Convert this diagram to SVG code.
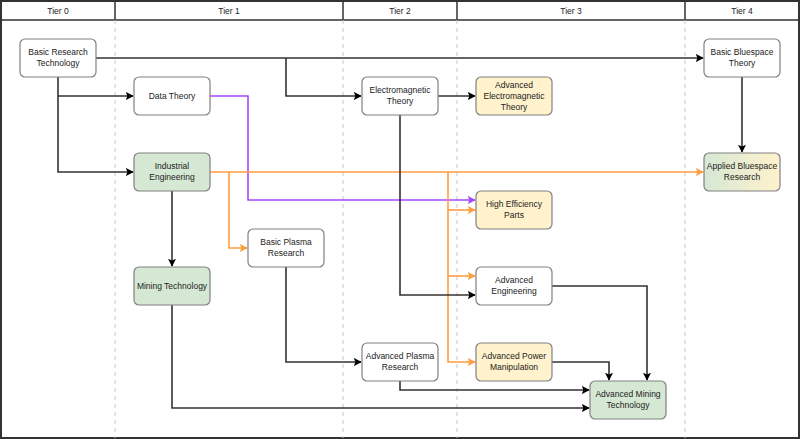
<svg xmlns="http://www.w3.org/2000/svg" width="800" height="439" viewBox="0 0 800 439">
<defs>
<style>
text{font-family:"Liberation Sans",Arial,sans-serif;font-size:8.5px;fill:#222;text-anchor:middle}
.n{stroke:#808080;stroke-width:1.2}
.w{fill:#fff}.g{fill:#d5e8d4}.y{fill:#fff2cc}
.e{fill:none;stroke:#333;stroke-width:1.6}
.o{fill:none;stroke:#FF9D3F;stroke-width:1.6}
.p{fill:none;stroke:#A547FF;stroke-width:1.6}
.d{stroke:#c8c8c8;stroke-dasharray:4 4}
</style>
<linearGradient id="gy" x1="0" x2="1"><stop offset="0" stop-color="#d5e8d4"/><stop offset="1" stop-color="#fff2cc"/></linearGradient>
<marker id="ak" viewBox="0 0 10 10" refX="9" refY="5" markerWidth="8" markerHeight="8" orient="auto" markerUnits="userSpaceOnUse"><path d="M0,0L10,5L0,10L2,5z" fill="#000"/></marker>
<marker id="ao" viewBox="0 0 10 10" refX="9" refY="5" markerWidth="8" markerHeight="8" orient="auto" markerUnits="userSpaceOnUse"><path d="M0,0L10,5L0,10L2,5z" fill="#FF9D3F"/></marker>
<marker id="ap" viewBox="0 0 10 10" refX="9" refY="5" markerWidth="8" markerHeight="8" orient="auto" markerUnits="userSpaceOnUse"><path d="M0,0L10,5L0,10L2,5z" fill="#A547FF"/></marker>
</defs>
<g id="lanes">
<rect x="1" y="1" width="798" height="437" fill="#fff" stroke="#333" stroke-width="2"/>
<line x1="1" y1="20" x2="799" y2="20" stroke="#333" stroke-width="1.5"/>
<g stroke="#333" stroke-width="1.5"><line x1="115" y1="1" x2="115" y2="20"/><line x1="343" y1="1" x2="343" y2="20"/><line x1="457" y1="1" x2="457" y2="20"/><line x1="685" y1="1" x2="685" y2="20"/></g>
<g class="d"><line x1="115" y1="20" x2="115" y2="438"/><line x1="343" y1="20" x2="343" y2="438"/><line x1="457" y1="20" x2="457" y2="438"/><line x1="685" y1="20" x2="685" y2="438"/></g>
<text x="58" y="14">Tier 0</text><text x="229" y="14">Tier 1</text><text x="400" y="14">Tier 2</text><text x="571" y="14">Tier 3</text><text x="742" y="14">Tier 4</text>
</g>
<g id="connectors">
<path class="e" d="M96,58H703" marker-end="url(#ak)"/>
<path class="e" d="M286,58V96H361" marker-end="url(#ak)"/>
<path class="e" d="M58,77V172H133" marker-end="url(#ak)"/>
<path class="e" d="M58,96H133" marker-end="url(#ak)"/>
<path class="p" d="M210,96H248V200H475" marker-end="url(#ap)"/>
<path class="o" d="M210,172H703" marker-end="url(#ao)"/>
<path class="o" d="M229,172V248H247" marker-end="url(#ao)"/>
<path class="o" d="M448,172V362H475" marker-end="url(#ao)"/>
<path class="o" d="M448,210H475" marker-end="url(#ao)"/>
<path class="o" d="M448,276H475" marker-end="url(#ao)"/>
<path class="e" d="M172,191V266" marker-end="url(#ak)"/>
<path class="e" d="M438,96H475" marker-end="url(#ak)"/>
<path class="e" d="M400,115V295H475" marker-end="url(#ak)"/>
<path class="e" d="M286,267V362H361" marker-end="url(#ak)"/>
<path class="e" d="M400,381V390H589" marker-end="url(#ak)"/>
<path class="e" d="M172,305V408H589" marker-end="url(#ak)"/>
<path class="e" d="M552,286H647V380" marker-end="url(#ak)"/>
<path class="e" d="M552,362H609V380" marker-end="url(#ak)"/>
<path class="e" d="M742,77V152" marker-end="url(#ak)"/>
</g>
<g id="brt"><rect class="n w" x="20" y="39" width="76" height="38" rx="5"/><text x="58" y="55">Basic Research</text><text x="58" y="66">Technology</text></g>
<g id="dt"><rect class="n w" x="134" y="77" width="76" height="38" rx="5"/><text x="172" y="99">Data Theory</text></g>
<g id="ie"><rect class="n g" x="134" y="153" width="76" height="38" rx="5"/><text x="172" y="169">Industrial</text><text x="172" y="180">Engineering</text></g>
<g id="mt"><rect class="n g" x="134" y="267" width="76" height="38" rx="5"/><text x="172" y="289">Mining Technology</text></g>
<g id="bpr"><rect class="n w" x="248" y="229" width="76" height="38" rx="5"/><text x="286" y="245">Basic Plasma</text><text x="286" y="256">Research</text></g>
<g id="et"><rect class="n w" x="362" y="77" width="76" height="38" rx="5"/><text x="400" y="93">Electromagnetic</text><text x="400" y="104">Theory</text></g>
<g id="apr"><rect class="n w" x="362" y="343" width="76" height="38" rx="5"/><text x="400" y="359">Advanced Plasma</text><text x="400" y="370">Research</text></g>
<g id="aet"><rect class="n y" x="476" y="77" width="76" height="38" rx="5"/><text x="514" y="88">Advanced</text><text x="514" y="99">Electromagnetic</text><text x="514" y="110">Theory</text></g>
<g id="hep"><rect class="n y" x="476" y="191" width="76" height="38" rx="5"/><text x="514" y="207">High Efficiency</text><text x="514" y="218">Parts</text></g>
<g id="ae"><rect class="n w" x="476" y="267" width="76" height="38" rx="5"/><text x="514" y="283">Advanced</text><text x="514" y="294">Engineering</text></g>
<g id="apm"><rect class="n y" x="476" y="343" width="76" height="38" rx="5"/><text x="514" y="359">Advanced Power</text><text x="514" y="370">Manipulation</text></g>
<g id="amt"><rect class="n g" x="590" y="381" width="76" height="38" rx="5"/><text x="628" y="397">Advanced Mining</text><text x="628" y="408">Technology</text></g>
<g id="bbt"><rect class="n w" x="704" y="39" width="76" height="38" rx="5"/><text x="742" y="55">Basic Bluespace</text><text x="742" y="66">Theory</text></g>
<g id="abr"><rect class="n" fill="url(#gy)" x="704" y="153" width="76" height="38" rx="5"/><text x="742" y="169">Applied Bluespace</text><text x="742" y="180">Research</text></g>
</svg>
